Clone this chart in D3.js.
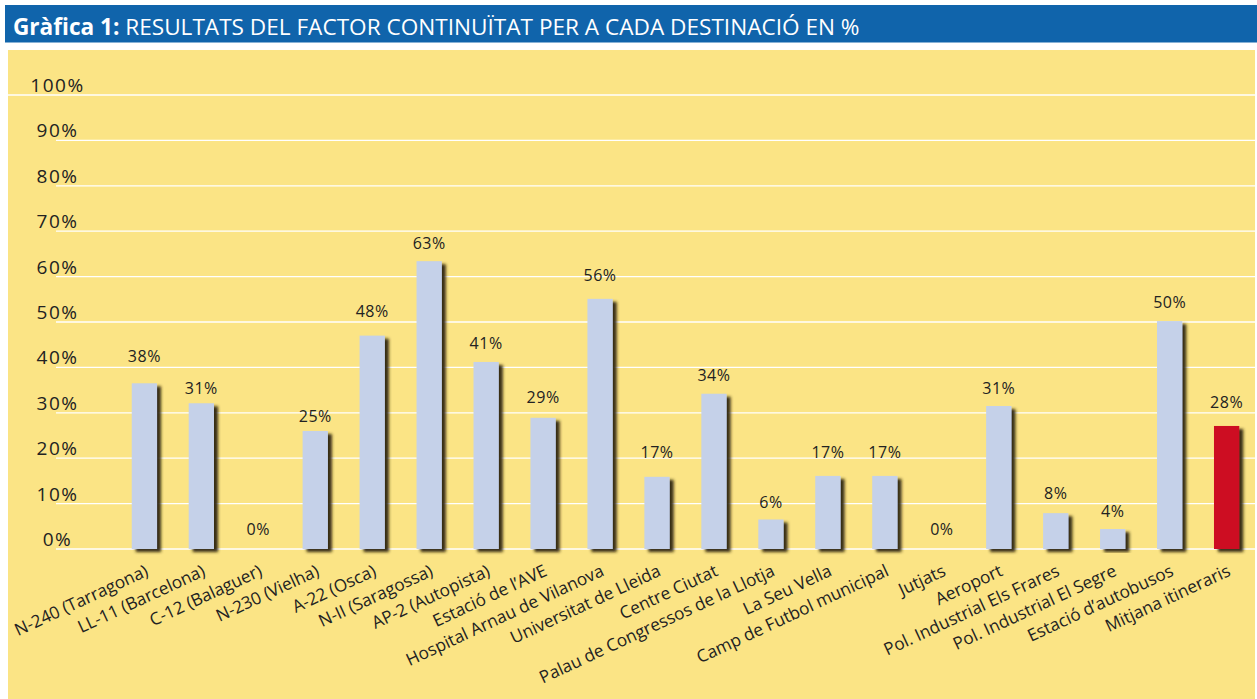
<!DOCTYPE html>
<html>
<head>
<meta charset="utf-8">
<script src="https://cdn.jsdelivr.net/npm/d3@7"></script>
<style>
html,body{margin:0;padding:0;background:#fff;}
svg{display:block;}
text{font-family:"Open Sans","Noto Sans",sans-serif;}
</style>
</head>
<body>
<svg id="chart" width="1257" height="699"></svg>
<script>
// ---- data ----
const titleBold = "Gràfica 1:";
const titleRest = "RESULTATS DEL FACTOR CONTINUÏTAT PER A CADA DESTINACIÓ EN %";
const categories = [
  "N-240 (Tarragona)", "LL-11 (Barcelona)", "C-12 (Balaguer)", "N-230 (Vielha)",
  "A-22 (Osca)", "N-II (Saragossa)", "AP-2 (Autopista)", "Estació de l’AVE",
  "Hospital Arnau de Vilanova", "Universitat de Lleida", "Centre Ciutat",
  "Palau de Congressos de la Llotja", "La Seu Vella", "Camp de Futbol municipal",
  "Jutjats", "Aeroport", "Pol. Industrial Els Frares", "Pol. Industrial El Segre",
  "Estació d’autobusos", "Mitjana itineraris"
];
// printed values (%)
const labelValues = [38, 31, 0, 25, 48, 63, 41, 29, 56, 17, 34, 6, 17, 17, 0, 31, 8, 4, 50, 28];
// bar heights as drawn in the picture (%)
const barValues = [36.5, 32.1, 0, 26.0, 47.0, 63.4, 41.2, 28.9, 55.1, 15.9, 34.2, 6.5, 16.1, 16.1, 0, 31.5, 7.9, 4.4, 50.2, 27.1];
const highlight = ["Mitjana itineraris"];
const yTicks = [0, 10, 20, 30, 40, 50, 60, 70, 80, 90, 100];

// ---- layout ----
const svg = d3.select("#chart");
const W = 1257, H = 699;
const x = d3.scaleBand().domain(categories).range([115.9, 1255.1]).padding(0);
const y = d3.scaleLinear().domain([0, 100]).range([549, 95]);
const barW = x.bandwidth() * 0.444;

const defs = svg.append("defs");
const f = defs.append("filter").attr("id", "shadow")
  .attr("x", "-30%").attr("y", "-10%").attr("width", "180%").attr("height", "130%");
f.append("feDropShadow").attr("dx", 4).attr("dy", 3).attr("stdDeviation", 1.7)
  .attr("flood-color", "#2a220f").attr("flood-opacity", 0.95);

// title bar
svg.append("rect").attr("x", 5).attr("y", 5).attr("width", W - 5).attr("height", 37.5).attr("fill", "#1064AB");
const t = svg.append("text").attr("x", 13).attr("y", 34.5).attr("fill", "#fff").attr("font-size", 22.6);
t.append("tspan").attr("font-weight", "bold").text(titleBold + " ");
t.append("tspan").text(titleRest);

// panel
svg.append("rect").attr("x", 8).attr("y", 50).attr("width", 1247).attr("height", H - 50).attr("fill", "#FBE485");

// grid
svg.append("g").selectAll("line").data(yTicks).join("line")
  .attr("x1", d => d === 100 ? 8 : 56).attr("x2", 1255)
  .attr("y1", d => y(d)).attr("y2", d => y(d))
  .attr("stroke", "#fff").attr("stroke-width", 1.3);

// y tick labels
svg.append("g").selectAll("text").data(yTicks).join("text")
  .attr("x", 57.5).attr("y", d => y(d) - 3)
  .attr("text-anchor", "middle").attr("font-size", 19).attr("letter-spacing", 1.5)
  .attr("fill", "#222").text(d => d + "%");

// bars
const rows = categories.map((c, i) => ({c, v: barValues[i], l: labelValues[i]}));
svg.append("g").selectAll("rect").data(rows.filter(d => d.v > 0)).join("rect")
  .attr("x", d => x(d.c) + (x.bandwidth() - barW) / 2)
  .attr("y", d => y(d.v))
  .attr("width", barW)
  .attr("height", d => y(0) - y(d.v))
  .attr("fill", d => highlight.includes(d.c) ? "#CD0923" : "#C5D1E9")
  .attr("filter", "url(#shadow)");

// value labels
svg.append("g").selectAll("text").data(rows).join("text")
  .attr("x", d => x(d.c) + x.bandwidth() / 2)
  .attr("y", d => y(d.l) - 14)
  .attr("text-anchor", "middle").attr("font-size", 16).attr("letter-spacing", 0.5)
  .attr("fill", "#222").text(d => d.l + "%");

// category labels
svg.append("g").selectAll("text").data(categories).join("text")
  .attr("transform", d => `translate(${x(d) + x.bandwidth() / 2 + 5},575) rotate(-25)`)
  .attr("text-anchor", "end").attr("font-size", 17.2)
  .attr("fill", "#222").text(d => d);
</script>
</body>
</html>
